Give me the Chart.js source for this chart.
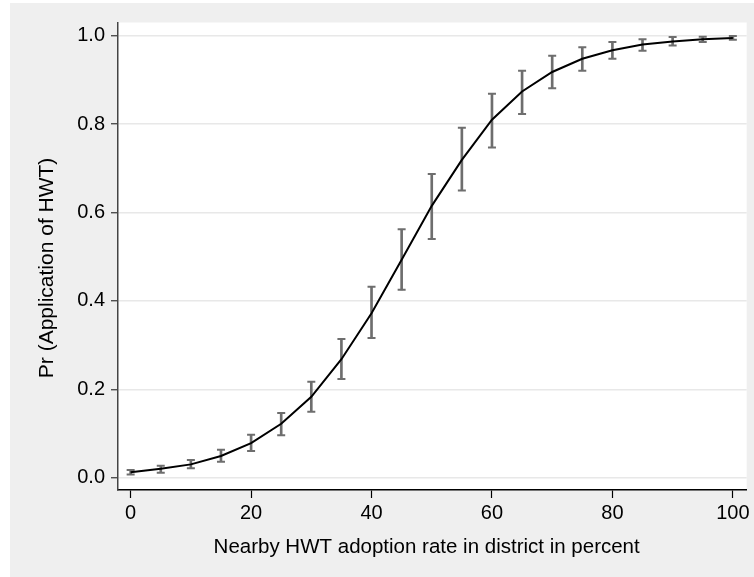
<!DOCTYPE html>
<html>
<head>
<meta charset="utf-8">
<script src="https://cdn.jsdelivr.net/npm/chart.js@4/dist/chart.umd.min.js"></script>
<style>
  html, body { margin: 0; padding: 0; background: #ffffff; }
  #c { position: absolute; left: 10px; top: 3px; background: #efefef; }
</style>
</head>
<body>
<canvas id="c" width="744" height="574"></canvas>
<script>
// ---- data ----
const adoptionRate = [0, 5, 10, 15, 20, 25, 30, 35, 40, 45, 50, 55, 60, 65, 70, 75, 80, 85, 90, 95, 100];
const prApplication = [0.012, 0.020, 0.030, 0.049, 0.078, 0.122, 0.183, 0.268, 0.372, 0.493, 0.615, 0.719, 0.810, 0.874, 0.918, 0.948, 0.967, 0.980, 0.987, 0.992, 0.995];
const ciLower = [0.007, 0.011, 0.021, 0.036, 0.060, 0.096, 0.149, 0.223, 0.316, 0.425, 0.540, 0.650, 0.747, 0.823, 0.881, 0.921, 0.948, 0.966, 0.978, 0.986, 0.991];
const ciUpper = [0.017, 0.027, 0.040, 0.063, 0.097, 0.146, 0.217, 0.314, 0.432, 0.562, 0.687, 0.792, 0.869, 0.921, 0.955, 0.974, 0.986, 0.992, 0.997, 0.998, 0.9995];
const xTickValues = [0, 20, 40, 60, 80, 100];
const yTickValues = [0, 0.2, 0.4, 0.6, 0.8, 1.0];
const xTitle = 'Nearby HWT adoption rate in district in percent';
const yTitle = 'Pr (Application of HWT)';

const FONT = 'Liberation Sans, Arial, Helvetica, sans-serif';
const barColor = '#6e6e6e';

const plotBg = {
  id: 'plotBg',
  beforeDraw(chart) {
    const {ctx, chartArea: a} = chart;
    ctx.save();
    ctx.fillStyle = '#ffffff';
    ctx.fillRect(a.left, a.top, a.right - a.left, a.bottom - a.top);
    ctx.restore();
  }
};

new Chart(document.getElementById('c'), {
  type: 'scatter',
  data: {
    datasets: [
      {
        type: 'line',
        data: adoptionRate.map((x, i) => ({x, y: prApplication[i]})),
        borderColor: '#000000',
        borderWidth: 2,
        pointRadius: 0,
        tension: 0,
        fill: false,
        order: 0
      },
      {
        type: 'bar',
        data: adoptionRate.map((x, i) => ({x, y: [ciLower[i], ciUpper[i]]})),
        backgroundColor: barColor,
        borderWidth: 0,
        barThickness: 2,
        order: 3
      },
      {
        type: 'scatter',
        data: adoptionRate.map((x, i) => ({x, y: ciLower[i]})),
        pointStyle: 'line',
        pointRadius: 4,
        borderColor: barColor,
        borderWidth: 2,
        order: 2
      },
      {
        type: 'scatter',
        data: adoptionRate.map((x, i) => ({x, y: ciUpper[i]})),
        pointStyle: 'line',
        pointRadius: 4,
        borderColor: barColor,
        borderWidth: 2,
        order: 2
      }
    ]
  },
  options: {
    responsive: false,
    animation: false,
    devicePixelRatio: 1,
    layout: { padding: { top: 19.5, right: 7.3, left: 0, bottom: 0 } },
    plugins: { legend: { display: false }, tooltip: { enabled: false } },
    scales: {
      x: {
        type: 'linear',
        min: -2.1,
        max: 102.3,
        offset: false,
        afterBuildTicks: s => { s.ticks = xTickValues.map(v => ({value: v})); },
        afterFit: s => { s.height = 87; },
        grid: { display: true, drawOnChartArea: false, tickLength: 8, tickColor: '#000000', tickWidth: 1.2, offset: false },
        border: { color: '#000000', width: 1.5 },
        ticks: { color: '#000000', font: { family: FONT, size: 20 }, padding: 3, maxRotation: 0,
                 callback: v => String(v) },
        title: { display: true, text: xTitle + '  ', color: '#000000', font: { family: FONT, size: 20.5 },
                 padding: { top: 0, bottom: 17.5 } }
      },
      y: {
        min: -0.028,
        max: 1.03,
        afterBuildTicks: s => { s.ticks = yTickValues.map(v => ({value: v})); },
        afterFit: s => { s.width = 108; },
        grid: { color: '#e8e8e8', lineWidth: 1.5, tickLength: 7, tickColor: '#333333', tickWidth: 1.2 },
        border: { color: '#444444', width: 1.5 },
        ticks: { color: '#000000', font: { family: FONT, size: 20 }, padding: 6,
                 callback: v => Number(v).toFixed(1) },
        title: { display: true, text: yTitle + '    ', color: '#000000', font: { family: FONT, size: 21 },
                 padding: { top: 25, bottom: 0 } }
      }
    }
  },
  plugins: [plotBg]
});
</script>
</body>
</html>
